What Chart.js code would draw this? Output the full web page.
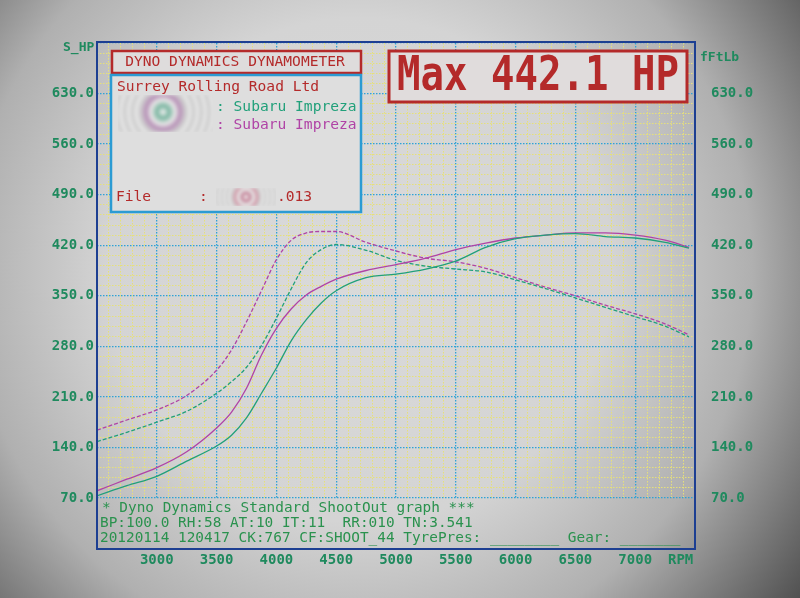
<!DOCTYPE html>
<html lang="en">
<head>
    <meta charset="UTF-8">
    <title>Dyno Dynamics Dynamometer</title>
    <script src="https://cdn.jsdelivr.net/npm/chart.js@4.4.0/dist/chart.umd.min.js"></script>
    <style>
        html, body { margin: 0; padding: 0; background: #9a9a9a; }
        #wrap { position: relative; width: 800px; height: 598px; }
    </style>
</head>
<body>
    <div id="wrap"><canvas id="dyno" width="800" height="598"></canvas></div>
    <script>
        // --- Data ---
        const rpm = [2500, 2750, 3000, 3250, 3500, 3625, 3750, 3875, 4000, 4125, 4250, 4375, 4500,
                     4750, 5000, 5250, 5500, 5750, 6000, 6250, 6500, 6750, 7000, 7250, 7450];

        // run 1 (green)
        const powerGreen  = [73, 87, 100, 121, 142, 157, 181, 215, 250, 288, 317, 340, 357,
                             375, 380, 387, 398, 417, 429, 434, 436, 432, 430, 424, 416];
        const torqueGreen = [148, 161, 175, 190, 215, 231, 251, 281, 319, 360, 396, 414, 421,
                             413, 399, 391, 387, 383, 372, 360, 347, 334, 321, 308, 293];
        // run 2 (magenta)
        const powerMagenta  = [80, 96, 112, 134, 167, 189, 222, 268, 305, 332, 351, 363, 373,
                               385, 393, 402, 414, 423, 430, 434, 437, 437, 434, 427, 417];
        const torqueMagenta = [164, 178, 192, 212, 247, 275, 314, 357, 400, 427, 437, 439, 439,
                               424, 412, 402, 397, 388, 375, 362, 350, 337, 325, 311, 296];

        const xLabels = [3000, 3500, 4000, 4500, 5000, 5500, 6000, 6500, 7000];
        const yLabels = [70, 140, 210, 280, 350, 420, 490, 560, 630];

        const header = 'DYNO DYNAMICS DYNAMOMETER';
        const company = 'Surrey Rolling Road Ltd';
        const vehicle = ': Subaru Impreza';
        const maxText = 'Max 442.1 HP';
        const footer = [
            '* Dyno Dynamics Standard ShootOut graph ***',
            'BP:100.0 RH:58 AT:10 IT:11  RR:010 TN:3.541',
            '20120114 120417 CK:767 CF:SHOOT_44 TyrePres: ________ Gear: _______'
        ];

        const GREEN = '#21a07a';
        const MAGENTA = '#b043a6';
        const TEXT_GREEN = '#1f8a5e';
        const RED = '#b42a2a';
        const MONO = '"DejaVu Sans Mono", "Liberation Mono", monospace';

        const pts = (arr) => rpm.map((r, i) => ({ x: r, y: arr[i] }));

        // blurred "logo" rings
        function drawRings(ctx, x, y, w, h, cx, cy, tint) {
            ctx.save();
            ctx.beginPath();
            ctx.rect(x, y, w, h);
            ctx.clip();
            ctx.filter = 'blur(1.5px)';
            const r = Math.max(w, h) * 0.9;
            const g = ctx.createRadialGradient(cx, cy, 0, cx, cy, r);
            g.addColorStop(0, '#eeeeee');
            g.addColorStop(0.07, tint[0]);
            g.addColorStop(0.14, '#e4e4e4');
            g.addColorStop(0.2, tint[1]);
            for (let k = 0; k < 8; k++) {
                g.addColorStop(0.27 + k * 0.09, '#cfcfcf');
                g.addColorStop(0.31 + k * 0.09, '#e4e4e4');
            }
            ctx.fillStyle = g;
            ctx.fillRect(x, y, w, h);
            ctx.restore();
        }

        const decor = {
            id: 'decor',
            beforeDraw(chart) {
                const ctx = chart.ctx;
                ctx.save();
                const g = ctx.createRadialGradient(360, 270, 0, 360, 270, 560);
                g.addColorStop(0, '#dadada');
                g.addColorStop(0.45, '#d4d4d4');
                g.addColorStop(0.7, '#b0b0b0');
                g.addColorStop(1, '#4a4a4a');
                ctx.fillStyle = g;
                ctx.fillRect(0, 0, chart.width, chart.height);
                ctx.restore();
            },
            afterDraw(chart) {
                const ctx = chart.ctx;
                const a = chart.chartArea;
                ctx.save();

                // outer frame
                ctx.strokeStyle = '#1d3f92';
                ctx.lineWidth = 2;
                ctx.strokeRect(a.left, a.top - 1, a.right - a.left, 550 - a.top);

                // axis titles
                ctx.fillStyle = TEXT_GREEN;
                ctx.font = 'bold 13px ' + MONO;
                ctx.textBaseline = 'middle';
                ctx.textAlign = 'left';
                ctx.fillText('S_HP', 63, 48);
                ctx.fillText('fFtLb', 700, 58);
                ctx.font = 'bold 14px ' + MONO;
                ctx.fillText('RPM', 668, 560);

                // header box
                ctx.fillStyle = '#dedcdc';
                ctx.fillRect(112, 51, 249, 22);
                ctx.strokeStyle = RED;
                ctx.lineWidth = 2.5;
                ctx.strokeRect(112, 51, 249, 22);
                ctx.fillStyle = RED;
                ctx.font = '14.6px ' + MONO;
                ctx.textAlign = 'center';
                ctx.fillText(header, 235, 62);

                // info box
                ctx.fillStyle = '#dedede';
                ctx.fillRect(111, 75, 250, 137);
                ctx.strokeStyle = '#2b9bd3';
                ctx.lineWidth = 2.5;
                ctx.strokeRect(111, 75, 250, 137);
                ctx.textAlign = 'left';
                ctx.fillStyle = RED;
                ctx.font = '14.6px ' + MONO;
                ctx.fillText(company, 117, 87);
                drawRings(ctx, 118, 95, 95, 37, 163, 112, ['#7fb8a4', '#b995b9']);
                ctx.fillStyle = GREEN;
                ctx.fillText(vehicle, 216, 107);
                ctx.fillStyle = MAGENTA;
                ctx.fillText(vehicle, 216, 125);
                ctx.fillStyle = RED;
                ctx.fillText('File', 116, 197);
                ctx.fillText(':', 199, 197);
                drawRings(ctx, 216, 188, 60, 18, 246, 197, ['#c88a9e', '#d4a0ae']);
                ctx.fillStyle = RED;
                ctx.fillText('.013', 277, 197);

                // max box
                ctx.fillStyle = '#e0dcdc';
                ctx.fillRect(389, 51, 298, 51);
                ctx.strokeStyle = RED;
                ctx.lineWidth = 3;
                ctx.strokeRect(389, 51, 298, 51);
                ctx.fillStyle = RED;
                ctx.font = 'bold 39px ' + MONO;
                ctx.textAlign = 'center';
                ctx.save();
                ctx.translate(538, 76);
                ctx.scale(1, 1.22);
                ctx.fillText(maxText, 0, 1);
                ctx.restore();

                // footer text
                ctx.fillStyle = '#2a924e';
                ctx.font = '14.4px ' + MONO;
                ctx.textAlign = 'left';
                ctx.textBaseline = 'alphabetic';
                ctx.fillText(footer[0], 102, 512);
                ctx.fillText(footer[1], 100, 527);
                ctx.fillText(footer[2], 100, 542);

                ctx.restore();
            }
        };

        const MAJOR = '#2ea2d6';
        const MINOR = '#e6e07a';
        const gridColor = (ctx) => {
            const v = ctx.tick ? ctx.tick.value : 0;
            return v % 500 === 0 ? MAJOR : MINOR;
        };
        const yGridColor = (ctx) => {
            const v = ctx.tick ? ctx.tick.value : 0;
            return (v - 70) % 70 === 0 ? MAJOR : MINOR;
        };
        const gridWidth = (ctx) => gridColor(ctx) === MAJOR ? 1.3 : 1;
        const yGridWidth = (ctx) => yGridColor(ctx) === MAJOR ? 1.3 : 1;

        new Chart(document.getElementById('dyno'), {
            type: 'line',
            data: {
                datasets: [
                    { label: 'Power run 1', data: pts(powerGreen), borderColor: GREEN },
                    { label: 'Power run 2', data: pts(powerMagenta), borderColor: MAGENTA },
                    { label: 'Torque run 1', data: pts(torqueGreen), borderColor: GREEN, borderDash: [4, 2] },
                    { label: 'Torque run 2', data: pts(torqueMagenta), borderColor: MAGENTA, borderDash: [4, 2] }
                ]
            },
            options: {
                responsive: false,
                animation: false,
                layout: { padding: { top: 43 } },
                elements: {
                    point: { radius: 0 },
                    line: { borderWidth: 1.3, cubicInterpolationMode: 'monotone' }
                },
                plugins: { legend: { display: false }, tooltip: { enabled: false } },
                scales: {
                    x: {
                        type: 'linear',
                        min: 2500,
                        max: 7500,
                        afterFit: (s) => { s.height = 100; },
                        border: { display: false, dash: [1.5, 1.5] },
                        grid: { color: gridColor, lineWidth: gridWidth, drawTicks: false },
                        ticks: {
                            stepSize: 100,
                            autoSkip: false,
                            maxRotation: 0,
                            maxTicksLimit: 100,
                            padding: 54,
                            color: TEXT_GREEN,
                            font: { family: MONO, size: 14, weight: 'bold' },
                            callback: (v) => xLabels.includes(v) ? String(v) : ''
                        }
                    },
                    y: {
                        position: 'left',
                        min: 70,
                        max: 700,
                        afterFit: (s) => { s.width = 97; },
                        border: { display: false, dash: [1.5, 1.5] },
                        grid: { color: yGridColor, lineWidth: yGridWidth, drawTicks: false },
                        ticks: {
                            stepSize: 14,
                            autoSkip: false,
                            maxTicksLimit: 100,
                            padding: 3,
                            color: TEXT_GREEN,
                            font: { family: MONO, size: 14, weight: 'bold' },
                            callback: (v) => yLabels.includes(v) ? v.toFixed(1) : ''
                        }
                    },
                    y2: {
                        position: 'right',
                        min: 70,
                        max: 700,
                        afterFit: (s) => { s.width = 105; },
                        border: { display: false },
                        grid: { display: false },
                        ticks: {
                            stepSize: 14,
                            autoSkip: false,
                            maxTicksLimit: 100,
                            padding: 8,
                            color: TEXT_GREEN,
                            font: { family: MONO, size: 14, weight: 'bold' },
                            callback: (v) => yLabels.includes(v) ? v.toFixed(1) : ''
                        }
                    }
                }
            },
            plugins: [decor]
        });
    </script>
</body>
</html>
